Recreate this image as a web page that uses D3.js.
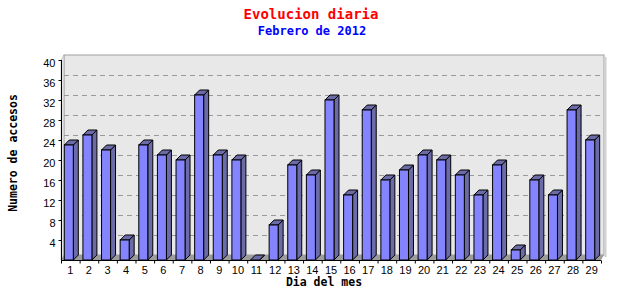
<!DOCTYPE html>
<html>
<head>
<meta charset="utf-8">
<script src="https://cdn.jsdelivr.net/npm/d3@7"></script>
<style>
  body { margin: 0; background: #fff; }
  svg { display: block; }
</style>
</head>
<body>
<script>
// Daily visits, February 2012
const days = d3.range(1, 30).map(String);
const visits = [23, 25, 22, 4, 23, 21, 20, 33, 21, 20, 0, 7, 19, 17, 32, 13, 30, 16, 18, 21, 20, 17, 13, 19, 2, 16, 13, 30, 24];
const yTicks = [4, 8, 12, 16, 20, 24, 28, 32, 36, 40];

const width = 640, height = 300;
const plotLeft = 61, plotRight = 601, plotBottom = 260, plotTop = 60;
const wallDx = 3, wallDy = 5;   // depth of the back wall
const barDx = 5, barDy = 5;     // depth of each bar

const svg = d3.select("body").append("svg")
    .attr("width", width)
    .attr("height", height);

const x = d3.scaleBand().domain(days).range([plotLeft, plotRight]).padding(0);
const y = d3.scaleLinear().domain([0, 40]).range([plotBottom, plotTop]);

// back wall
svg.append("rect")
    .attr("x", plotLeft + wallDx).attr("y", plotTop - wallDy)
    .attr("width", plotRight - plotLeft).attr("height", plotBottom - plotTop)
    .attr("fill", "#e8e8e8").attr("stroke", "#a0a0a0");

// shadow right of wall
svg.append("line")
    .attr("x1", plotRight + wallDx + 1.5).attr("x2", plotRight + wallDx + 1.5)
    .attr("y1", plotTop - wallDy + 2).attr("y2", plotBottom - wallDy + 2)
    .attr("stroke", "#d0d0d0").attr("stroke-width", 2);

// left wall
svg.append("polygon")
    .attr("points", [[plotLeft, plotTop], [plotLeft + wallDx, plotTop - wallDy], [plotLeft + wallDx, plotBottom - wallDy], [plotLeft, plotBottom]].join(" "))
    .attr("fill", "#e2e2e2").attr("stroke", "#a0a0a0").attr("stroke-width", 0.5);

// floor
svg.append("polygon")
    .attr("points", [[plotLeft, plotBottom], [plotLeft + wallDx, plotBottom - wallDy], [plotRight + wallDx, plotBottom - wallDy], [plotRight, plotBottom]].join(" "))
    .attr("fill", "#9c9c9c");

// grid lines on back wall
svg.append("g").selectAll("line")
    .data(yTicks.filter(v => v < 40))
    .enter().append("line")
    .attr("x1", plotLeft + wallDx).attr("x2", plotRight + wallDx)
    .attr("y1", d => y(d) - wallDy + 0.5).attr("y2", d => y(d) - wallDy + 0.5)
    .attr("stroke", "#9a9a9a")
    .attr("stroke-dasharray", "5,4");

// bars
const bw = 9, off = 3.3;
const bars = svg.append("g").selectAll("g")
    .data(days.map((d, i) => ({ day: d, v: visits[i] })))
    .enter().append("g");

bars.append("polygon") // side
    .attr("points", d => {
        const x1 = x(d.day) + off + bw, y0 = y(0), y1 = y(d.v);
        return [[x1, y1], [x1 + barDx, y1 - barDy], [x1 + barDx, y0 - barDy], [x1, y0]].join(" ");
    })
    .attr("fill", "#6b6ba8").attr("stroke", "#000").attr("stroke-linejoin", "round");

bars.append("polygon") // top
    .attr("points", d => {
        const x0 = x(d.day) + off, x1 = x0 + bw, y1 = y(d.v);
        return [[x0, y1], [x0 + barDx, y1 - barDy], [x1 + barDx, y1 - barDy], [x1, y1]].join(" ");
    })
    .attr("fill", "#6b6ba8").attr("stroke", "#000").attr("stroke-linejoin", "round");

bars.append("rect") // front
    .attr("x", d => x(d.day) + off)
    .attr("y", d => y(d.v))
    .attr("width", bw)
    .attr("height", d => y(0) - y(d.v))
    .attr("fill", "#8484ff").attr("stroke", "#000");

// axes
const yAxis = d3.axisLeft(y).tickValues(yTicks).tickSize(3).tickPadding(3);
const gy = svg.append("g")
    .attr("transform", `translate(${plotLeft + 0.5},0)`)
    .call(yAxis);
gy.select(".domain").attr("d", `M0,${plotTop}V${plotBottom}`);
gy.selectAll("text")
    .attr("dy", "0.55em")
    .style("font-family", "Liberation Sans, Arial, sans-serif")
    .style("font-size", "11px")
    .attr("fill", "#000");

const xAxis = d3.axisBottom(x).tickSize(0).tickPadding(4);
const gx = svg.append("g")
    .attr("transform", `translate(0,${plotBottom + 0.5})`)
    .call(xAxis);
gx.select(".domain").attr("d", `M${plotLeft},0H${plotRight}`);
gx.selectAll("text")
    .attr("dy", "0.85em")
    .style("font-family", "Liberation Sans, Arial, sans-serif")
    .style("font-size", "11px")
    .attr("fill", "#000");
// tick marks at band boundaries
gx.append("g").selectAll("line")
    .data(days.concat(["end"]))
    .enter().append("line")
    .attr("x1", (d, i) => plotLeft + i * x.bandwidth() + 0.5)
    .attr("x2", (d, i) => plotLeft + i * x.bandwidth() + 0.5)
    .attr("y1", 0).attr("y2", 3)
    .attr("stroke", "#000");

// titles
const mono = "DejaVu Sans Mono, monospace";
svg.append("text")
    .attr("x", 311).attr("y", 19)
    .attr("text-anchor", "middle")
    .style("font-family", mono).style("font-weight", "bold").style("font-size", "14px")
    .attr("fill", "#ff0000")
    .text("Evolucion diaria");

svg.append("text")
    .attr("x", 312).attr("y", 35)
    .attr("text-anchor", "middle")
    .style("font-family", mono).style("font-weight", "bold").style("font-size", "12px")
    .attr("fill", "#0000ff")
    .text("Febrero de 2012");

svg.append("text")
    .attr("x", 324).attr("y", 286)
    .attr("text-anchor", "middle")
    .style("font-family", mono).style("font-weight", "bold").style("font-size", "11.5px")
    .attr("fill", "#000")
    .text("Dia del mes");

svg.append("text")
    .attr("transform", "translate(17,153) rotate(-90)")
    .attr("text-anchor", "middle")
    .style("font-family", mono).style("font-weight", "bold").style("font-size", "11.5px")
    .attr("fill", "#000")
    .text("Numero de accesos");
</script>
</body>
</html>
